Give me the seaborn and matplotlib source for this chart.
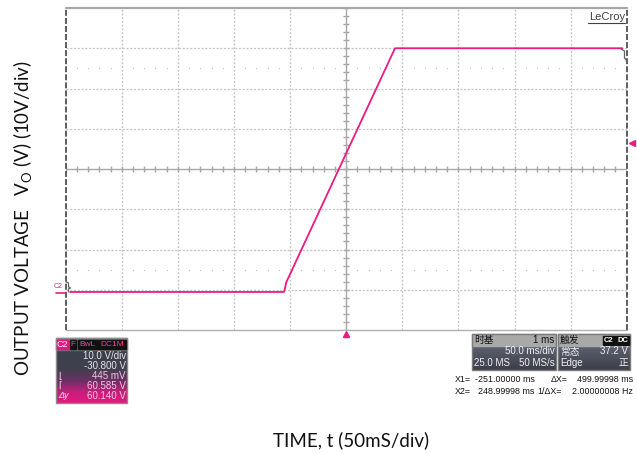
import numpy as np
import matplotlib
matplotlib.use("Agg")
import matplotlib.pyplot as plt
import matplotlib.transforms as mtrans
from matplotlib.patches import Rectangle
from matplotlib.colors import LinearSegmentedColormap
import seaborn as sns

# scope capture: C2, 10 V/div, 50 ms/div, offset -30.8 V
time_ms = [-246.0, -55.5, -54.5, -53.5, 43.5, 246.0]
volts = [0.25, 0.25, 1.2, 2.6, 60.8, 60.8]

volts_per_div = 10.0
ms_per_div = 50.0
offset_v = -30.8
trig_level = 37.2

ch_rows = ["10.0 V/div", "-30.800 V", "445 mV", "60.585 V", "60.140 V"]
ch_syms = ["", "", "\u230a", "\u2308", "\u0394y"]
tb_rows = [("时基", "1 ms"), ("", "50.0 ms/div"), ("25.0 MS", "50 MS/s")]
trig_rows = [("触发", ""), ("常态", "37.2 V"), ("Edge", "正")]
cursor_rows = [("X1=", "-251.00000 ms", "\u0394X=", "499.99998 ms"),
               ("X2=", "248.99998 ms", "1/\u0394X=", "2.00000008 Hz")]

TRACE = "#ee1a82"
GRID = "#c4c4c4"

sns.set_style("white")
plt.rcParams["font.family"] = ["Liberation Sans", "Noto Sans CJK SC", "DejaVu Sans"]
plt.rcParams["lines.scale_dashes"] = False

fig = plt.figure(figsize=(6.37, 4.54), dpi=100)
ax = fig.add_axes([65.7 / 637, 1 - 330 / 454, 561 / 637, 322 / 454])
center_v = -offset_v
ax.set_xlim(-5 * ms_per_div, 5 * ms_per_div)
ax.set_ylim(center_v - 4 * volts_per_div, center_v + 4 * volts_per_div)
ax.set_xticks([])
ax.set_yticks([])
for s in ax.spines.values():
    s.set_visible(False)

# graticule
xg = np.arange(-4, 5) * ms_per_div
yg = center_v + np.arange(-3, 4) * volts_per_div
for x in xg:
    if x != 0:
        ax.axvline(x, color=GRID, lw=0.9, ls=(0, (1.5, 1.2)), zorder=1)
for y in yg:
    if y != center_v:
        ax.axhline(y, color=GRID, lw=0.9, ls=(0, (1.5, 1.2)), zorder=1)
ax.axhline(center_v, color="#a8a8a8", lw=1.0, zorder=1)
ax.axvline(0, color="#a8a8a8", lw=1.0, zorder=1)
mx = np.arange(-250, 251, 10)
my = center_v + np.arange(-40, 41, 2)
ax.vlines(mx, center_v - 0.8, center_v + 0.8, color="#a8a8a8", lw=1.0, zorder=1)
ax.hlines(my, -2.8, 2.8, color="#a8a8a8", lw=1.0, zorder=1)
dots_x = mx[(mx % 50) != 0]
for y in (center_v - 2.5 * volts_per_div, center_v + 2.5 * volts_per_div):
    ax.scatter(dots_x, np.full(len(dots_x), y), s=0.6, color="#b0b0b0", lw=0, zorder=1)

# frame
ax.axhline(ax.get_ylim()[1], color="#a6a6a6", lw=1.6, zorder=2, clip_on=False)
ax.axhline(ax.get_ylim()[0], color="#b0b0b0", lw=1.0, zorder=2, clip_on=False)
ax.axvline(-250, color="#505050", lw=1.3, ls=(0, (4.3, 1.5)), zorder=2, clip_on=False)
ax.axvline(250, color="#505050", lw=1.3, ls=(0, (4.3, 1.5)), zorder=2, clip_on=False)

# trace
sns.lineplot(x=time_ms, y=volts, ax=ax, color=TRACE, lw=1.3, zorder=5)

# markers
off_r = mtrans.offset_copy(ax.transData, fig=fig, x=5, y=0, units="dots")
ax.plot([250], [trig_level], marker="<", ms=4.5, color=TRACE, transform=off_r, clip_on=False)
off_b = mtrans.offset_copy(ax.transData, fig=fig, x=0, y=-4, units="dots")
ax.plot([0], [ax.get_ylim()[0]], marker="^", ms=4.5, color=TRACE, transform=off_b, clip_on=False)
ax.plot([-259, -251], [0, 0], color=TRACE, lw=1.2, clip_on=False)
ax.text(-257, 0.8, "C2", color=TRACE, fontsize=5, ha="center", va="bottom")

# overlay in pixel coordinates
ov = fig.add_axes([0, 0, 1, 1], facecolor="none")
ov.set_xlim(0, 637)
ov.set_ylim(454, 0)
ov.axis("off")

ov.plot([66, 68.5, 68.5, 70.5, 68.5, 68.5], [282, 283, 287, 288, 289, 292], color="#606060", lw=0.9)
ov.plot([621, 624.5, 624.5, 626], [49, 51, 58, 60], color="#606060", lw=0.9)

ov.text(625, 17, "LeCroy", fontsize=8, color="#404040", ha="right", va="center")
ov.plot([588, 625], [22.5, 22.5], color="#404040", lw=0.8)

# axis titles
ov.text(23, 218, r"OUTPUT VOLTAGE   V$_\mathregular{O}$ (V) (10V/div)", rotation=90,
        ha="center", va="center", fontsize=13.5, family="Lato", color="#111111")
ov.text(351, 440, "TIME, t (50mS/div)", ha="center", va="center", fontsize=13.5,
        family="Lato", color="#111111")

# channel box
cmap = LinearSegmentedColormap.from_list("ch", ["#3c404c", "#40404e", "#6e2f66", "#c81f7c", "#e3197f"])
grad = np.linspace(0, 1, 64).reshape(-1, 1) ** 1.3
ov.imshow(grad, cmap=cmap, extent=(56, 127, 403, 350), aspect="auto", zorder=3)
ov.add_patch(Rectangle((56, 338), 71, 65, fill=False, ec="#8a8a8a", lw=1.0, zorder=4))
ov.add_patch(Rectangle((56, 338), 71, 12, color="#6f6f6f", zorder=3))
ov.add_patch(Rectangle((57, 339.5), 11, 9.5, color="#e8157f", zorder=4))
ov.text(62.5, 344.5, "C2", color="white", fontsize=6.5, ha="center", va="center", zorder=5)
for x0, w, lab in [(70, 6, "F"), (77.5, 19, "BwL"), (98, 28, "DC1M")]:
    ov.add_patch(Rectangle((x0, 339.5), w, 9.5, color="#111111", zorder=4))
    ov.text(x0 + w / 2, 344.5, lab, color="#ff3d9a", fontsize=6, ha="center", va="center", zorder=5)
for i, (lab, sym) in enumerate(zip(ch_rows, ch_syms)):
    yy = 356 + 10 * i
    c = "#e6e6e6" if i < 2 else "#f4c8e0"
    ov.text(126, yy, lab, color=c, fontsize=7, ha="right", va="center", zorder=5)
    if sym:
        ov.text(58, yy, sym, color="#f0f0f0", fontsize=6.5, ha="left", va="center", zorder=5,
                style="italic" if i == 4 else "normal")

# timebase / trigger boxes
dark = LinearSegmentedColormap.from_list("d", ["#5c6070", "#3c3f48"])
g2 = np.linspace(0, 1, 32).reshape(-1, 1)
for (x0, x1), rows in [((472, 556), tb_rows), ((558, 630), trig_rows)]:
    ov.imshow(g2, cmap=dark, extent=(x0, x1, 370, 346), aspect="auto", zorder=3)
    ov.add_patch(Rectangle((x0, 334), x1 - x0, 12, color="#a9a9a9", zorder=3))
    ov.add_patch(Rectangle((x0, 334), x1 - x0, 36, fill=False, ec="#7a7a7a", lw=1.0, zorder=4))
    for i, (l, r) in enumerate(rows):
        yy = 340 + 11.5 * i
        c = "#111111" if i == 0 else "#f2f2f2"
        ov.text(x0 + 2, yy, l, color=c, fontsize=7, ha="left", va="center", zorder=5)
        ov.text(x1 - 1.5, yy, r, color=c, fontsize=7, ha="right", va="center", zorder=5)
for x0, w, lab in [(603, 12, "C2"), (616, 13, "DC")]:
    ov.add_patch(Rectangle((x0, 335.5), w, 9, color="#111111", zorder=4))
    ov.text(x0 + w / 2, 340, lab, color="white", fontsize=5.5, ha="center", va="center",
            weight="bold", zorder=5)

# cursor readouts
col_x = [(455, 475, 551, 633), (455, 478, 537, 633)]
for (a, b, c, d), (xa, xb, xc, xd) in zip(cursor_rows, col_x):
    yy = 380 if a == "X1=" else 391
    ov.text(xa, yy, a, fontsize=6.4, ha="left", va="center", color="#111111")
    ov.text(xb, yy, b, fontsize=6.4, ha="left", va="center", color="#111111")
    ov.text(xc, yy, c, fontsize=6.4, ha="left", va="center", color="#111111")
    ov.text(xd, yy, d, fontsize=6.4, ha="right", va="center", color="#111111")

fig.savefig("out.png", dpi=100)
